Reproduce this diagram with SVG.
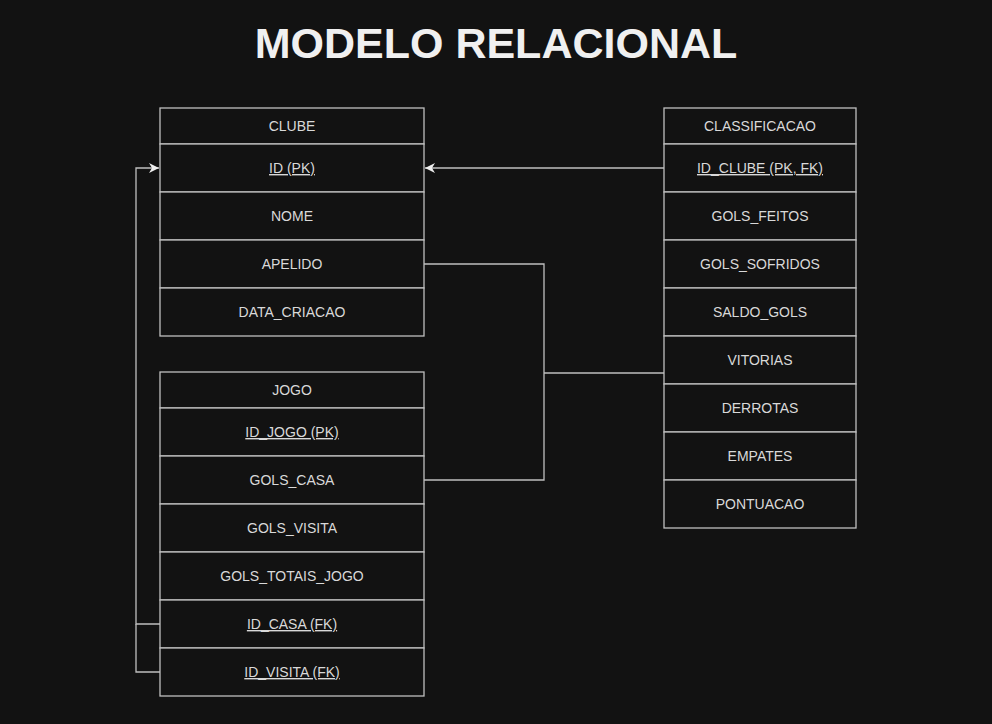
<svg xmlns="http://www.w3.org/2000/svg" width="992" height="724" viewBox="0 0 992 724">
<style>
.bg{fill:#121212}
.cell{fill:#121212;stroke:#bfbfbf;stroke-width:1.3}
.t{font-family:"Liberation Sans",Arial,sans-serif;font-size:14px;fill:#d9d9d9;text-anchor:middle}
.u{text-decoration:underline}
.title{font-family:"Liberation Sans",Arial,sans-serif;font-size:43px;font-weight:bold;fill:#f0f0f0;text-anchor:middle}
.c{fill:none;stroke:#bfbfbf;stroke-width:1.3}
</style>
<defs>
<marker id="arr" viewBox="0 0 10 10" refX="10" refY="5" markerWidth="10" markerHeight="10" markerUnits="userSpaceOnUse" orient="auto">
<path d="M0,0 L10,5 L0,10 L3,5 Z" fill="#eeeeee"/>
</marker>
</defs>
<rect class="bg" width="992" height="724"/>
<text class="title" x="496" y="58">MODELO RELACIONAL</text>
<g id="connectors">
<path class="c" d="M664,168 L425,168" marker-end="url(#arr)"/>
<path class="c" d="M424,264 L544,264 L544,480 L424,480"/>
<path class="c" d="M664,373 L544,373"/>
<path class="c" d="M160,624 L136,624 L136,168 L159,168" marker-end="url(#arr)"/>
<path class="c" d="M160,672 L136,672 L136,624"/>
</g>
<g id="clube">
<rect class="cell" x="160" y="108" width="264" height="36"/>
<text class="t" x="292" y="131">CLUBE</text>
<rect class="cell" x="160" y="144" width="264" height="48"/>
<text class="t u" x="292" y="173">ID (PK)</text>
<rect class="cell" x="160" y="192" width="264" height="48"/>
<text class="t" x="292" y="221">NOME</text>
<rect class="cell" x="160" y="240" width="264" height="48"/>
<text class="t" x="292" y="269">APELIDO</text>
<rect class="cell" x="160" y="288" width="264" height="48"/>
<text class="t" x="292" y="317">DATA_CRIACAO</text>
</g>
<g id="jogo">
<rect class="cell" x="160" y="372" width="264" height="36"/>
<text class="t" x="292" y="395">JOGO</text>
<rect class="cell" x="160" y="408" width="264" height="48"/>
<text class="t u" x="292" y="437">ID_JOGO (PK)</text>
<rect class="cell" x="160" y="456" width="264" height="48"/>
<text class="t" x="292" y="485">GOLS_CASA</text>
<rect class="cell" x="160" y="504" width="264" height="48"/>
<text class="t" x="292" y="533">GOLS_VISITA</text>
<rect class="cell" x="160" y="552" width="264" height="48"/>
<text class="t" x="292" y="581">GOLS_TOTAIS_JOGO</text>
<rect class="cell" x="160" y="600" width="264" height="48"/>
<text class="t u" x="292" y="629">ID_CASA (FK)</text>
<rect class="cell" x="160" y="648" width="264" height="48"/>
<text class="t u" x="292" y="677">ID_VISITA (FK)</text>
</g>
<g id="classificacao">
<rect class="cell" x="664" y="108" width="192" height="36"/>
<text class="t" x="760" y="131">CLASSIFICACAO</text>
<rect class="cell" x="664" y="144" width="192" height="48"/>
<text class="t u" x="760" y="173">ID_CLUBE (PK, FK)</text>
<rect class="cell" x="664" y="192" width="192" height="48"/>
<text class="t" x="760" y="221">GOLS_FEITOS</text>
<rect class="cell" x="664" y="240" width="192" height="48"/>
<text class="t" x="760" y="269">GOLS_SOFRIDOS</text>
<rect class="cell" x="664" y="288" width="192" height="48"/>
<text class="t" x="760" y="317">SALDO_GOLS</text>
<rect class="cell" x="664" y="336" width="192" height="48"/>
<text class="t" x="760" y="365">VITORIAS</text>
<rect class="cell" x="664" y="384" width="192" height="48"/>
<text class="t" x="760" y="413">DERROTAS</text>
<rect class="cell" x="664" y="432" width="192" height="48"/>
<text class="t" x="760" y="461">EMPATES</text>
<rect class="cell" x="664" y="480" width="192" height="48"/>
<text class="t" x="760" y="509">PONTUACAO</text>
</g>
</svg>
